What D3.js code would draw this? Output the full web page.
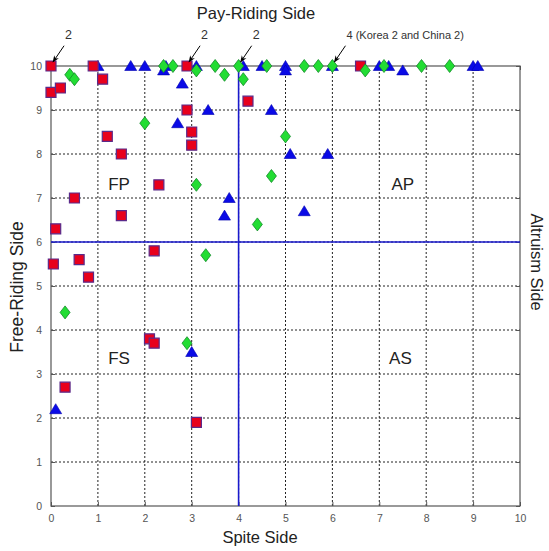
<!DOCTYPE html>
<html><head><meta charset="utf-8">
<script src="https://cdn.jsdelivr.net/npm/d3@7"></script>
<style>body{margin:0;background:#fff}svg{display:block;font-family:"Liberation Sans",Arial,sans-serif}</style>
</head><body><svg id="c" width="549" height="551"></svg>
<script>
// Data
const redSquares = [[0,10],[0,9.4],[0.2,9.5],[0.9,10],[1.1,9.7],[2.9,10],[2.9,9.0],[3.0,8.5],[3.0,8.2],[1.2,8.4],[1.5,8.0],[2.3,7.3],[0.5,7.0],[1.5,6.6],[0.1,6.3],[0.05,5.5],[0.6,5.6],[0.8,5.2],[2.2,5.8],[4.2,9.2],[6.6,10],[2.1,3.8],[2.2,3.7],[0.3,2.7],[3.1,1.9]];
const blueTriangles = [[1.0,10],[1.7,10],[2.0,10],[2.4,9.9],[2.45,10],[3.1,10],[2.8,9.6],[3.35,9.0],[4.7,9.0],[2.7,8.7],[4.1,10],[4.5,10],[5.0,10],[5.0,9.9],[6.0,10],[7.0,10],[7.2,10],[7.5,9.9],[9.0,10],[9.1,10],[5.1,8.0],[5.9,8.0],[3.8,7.0],[3.7,6.6],[5.4,6.7],[3.0,3.5],[0.1,2.2]];
const greenDiamonds = [[0.4,9.8],[0.5,9.7],[2.4,10],[2.6,10],[3.1,9.9],[3.5,10],[3.7,9.8],[4.0,10],[4.1,9.7],[4.6,10],[5.4,10],[5.7,10],[6.0,10],[6.7,9.9],[7.1,10],[7.9,10],[8.5,10],[2.0,8.7],[5.0,8.4],[4.7,7.5],[3.1,7.3],[4.4,6.4],[3.3,5.7],[0.3,4.4],[2.9,3.7]];
const ticks = [0,1,2,3,4,5,6,7,8,9,10];
const quadrantLabels = [["FP",1.45,7.3],["AP",7.5,7.3],["FS",1.45,3.35],["AS",7.45,3.35]];
const annotations = [["2",0,10,0.3,10.62],["2",2.9,10,3.2,10.62],["2",4.0,10,4.3,10.62],["4 (Korea 2 and China 2)",6.0,10,6.3,10.62]];
const dividerX = 4, dividerY = 6;

const svg = d3.select("#c");
const x = d3.scaleLinear().domain([0,10]).range([51,520]);
const y = d3.scaleLinear().domain([0,10]).range([506,66]);

// arrow marker
svg.append("defs").append("marker").attr("id","ah").attr("viewBox","0 0 10 10")
  .attr("refX",9).attr("refY",5).attr("markerWidth",7).attr("markerHeight",7)
  .attr("orient","auto").attr("markerUnits","userSpaceOnUse")
  .append("path").attr("d","M0,1L10,5L0,9L3,5Z").attr("fill","#000");

// grid
const g = svg.append("g");
g.selectAll(".gx").data(ticks.slice(1,-1)).join("line")
  .attr("x1",d=>x(d)).attr("x2",d=>x(d)).attr("y1",y(0)).attr("y2",y(10))
  .attr("stroke","#222").attr("stroke-width",1).attr("stroke-dasharray","2,2");
g.selectAll(".gy").data(ticks.slice(1,-1)).join("line")
  .attr("y1",d=>y(d)).attr("y2",d=>y(d)).attr("x1",x(0)).attr("x2",x(10))
  .attr("stroke","#222").attr("stroke-width",1).attr("stroke-dasharray","2,2");

// axes
const xAxis = d3.axisBottom(x).tickValues(ticks).tickSize(-4).tickPadding(9);
const yAxis = d3.axisLeft(y).tickValues(ticks).tickSize(-4).tickPadding(9);
const ax = svg.append("g").attr("transform",`translate(0,${y(0)})`).call(xAxis);
const ay = svg.append("g").attr("transform",`translate(${x(0)},0)`).call(yAxis);
[ax,ay].forEach(a=>{a.select(".domain").remove();
  a.selectAll("line").attr("stroke","#555");
  a.selectAll("text").attr("fill","#555").attr("font-size",10.5).attr("font-family","Liberation Sans, Arial");});
// top/right ticks
svg.append("g").attr("transform",`translate(0,${y(10)})`).call(d3.axisTop(x).tickValues(ticks).tickSize(-4).tickFormat(""))
  .call(a=>{a.select(".domain").remove();a.selectAll("line").attr("stroke","#555");});
svg.append("g").attr("transform",`translate(${x(10)},0)`).call(d3.axisRight(y).tickValues(ticks).tickSize(-4).tickFormat(""))
  .call(a=>{a.select(".domain").remove();a.selectAll("line").attr("stroke","#555");});
// frame
svg.append("rect").attr("x",x(0)).attr("y",y(10)).attr("width",x(10)-x(0)).attr("height",y(0)-y(10))
  .attr("fill","none").attr("stroke","#555").attr("stroke-width",1.2);

// divider lines
svg.append("line").attr("x1",x(dividerX)).attr("x2",x(dividerX)).attr("y1",y(0)).attr("y2",y(10))
  .attr("stroke","#1a1acc").attr("stroke-width",1.6);
svg.append("line").attr("x1",x(0)).attr("x2",x(10)).attr("y1",y(dividerY)).attr("y2",y(dividerY))
  .attr("stroke","#1a1acc").attr("stroke-width",1.6);

// quadrant labels
svg.selectAll(".ql").data(quadrantLabels).join("text")
  .attr("x",d=>x(d[1])).attr("y",d=>y(d[2])).attr("text-anchor","middle").attr("dominant-baseline","central")
  .attr("font-size",17).attr("fill","#222").text(d=>d[0]);

// markers
const sq = d3.symbol().type({draw(c,s){const h=5;c.moveTo(-h,-h);c.lineTo(h,-h);c.lineTo(h,h);c.lineTo(-h,h);c.closePath();}})();
const tri = d3.symbol().type({draw(c,s){c.moveTo(0,-5.5);c.lineTo(6,4.5);c.lineTo(-6,4.5);c.closePath();}})();
const dia = d3.symbol().type({draw(c,s){c.moveTo(0,-6.5);c.lineTo(5,0);c.lineTo(0,6.5);c.lineTo(-5,0);c.closePath();}})();

svg.append("g").selectAll("path").data(blueTriangles).join("path")
  .attr("d",tri).attr("transform",d=>`translate(${x(d[0])},${y(d[1])})`)
  .attr("fill","#0a0ae6").attr("stroke","#0000b0").attr("stroke-width",0.6);
svg.append("g").selectAll("path").data(redSquares).join("path")
  .attr("d",sq).attr("transform",d=>`translate(${x(d[0])},${y(d[1])})`)
  .attr("fill","#e8001c").attr("stroke","#5a2a8a").attr("stroke-width",1.2);
svg.append("g").selectAll("path").data(greenDiamonds).join("path")
  .attr("d",dia).attr("transform",d=>`translate(${x(d[0])},${y(d[1])})`)
  .attr("fill","#22dd33").attr("stroke","#138a2a").attr("stroke-width",0.8);

// annotations
const an = svg.append("g");
an.selectAll("line").data(annotations).join("line")
  .attr("x1",d=>x(d[3])-1).attr("y1",d=>y(d[4])+7)
  .attr("x2",d=>x(d[1])+2).attr("y2",d=>y(d[2])-4)
  .attr("stroke","#000").attr("stroke-width",1).attr("marker-end","url(#ah)");
an.selectAll("text").data(annotations).join("text")
  .attr("x",d=>x(d[3])).attr("y",d=>y(d[4])).attr("font-size",d=>d[0].length>1?11:12.5).attr("fill","#333")
  .text(d=>d[0]);

// titles
svg.append("text").attr("x",256).attr("y",19).attr("text-anchor","middle").attr("font-size",16.5).attr("fill","#222").text("Pay-Riding Side");
svg.append("text").attr("x",260).attr("y",543).attr("text-anchor","middle").attr("font-size",16.5).attr("fill","#222").text("Spite Side");
svg.append("text").attr("transform","translate(23,287) rotate(-90)").attr("text-anchor","middle").attr("font-size",17.5).attr("fill","#222").text("Free-Riding Side");
svg.append("text").attr("transform","translate(531,262) rotate(90)").attr("text-anchor","middle").attr("font-size",16.5).attr("fill","#222").text("Altruism Side");
</script></body></html>
